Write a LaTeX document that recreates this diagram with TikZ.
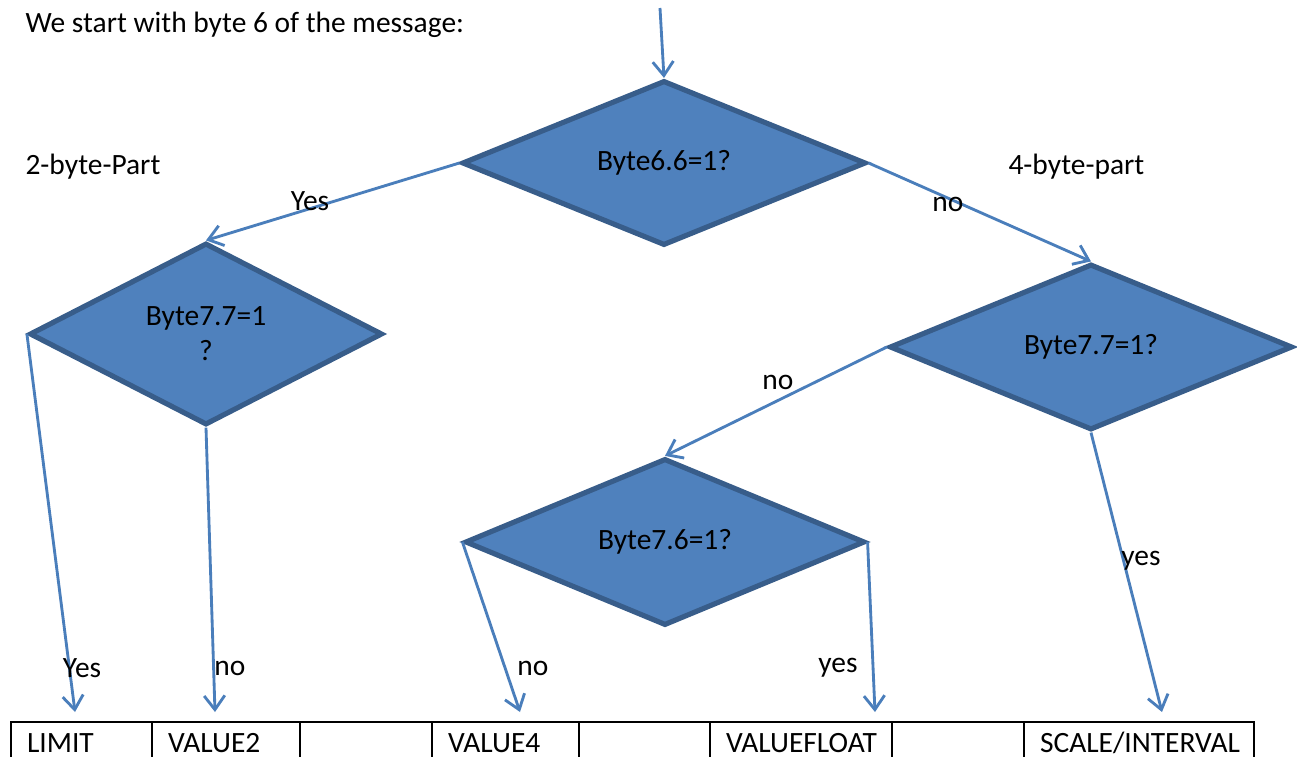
\documentclass[tikz,border=0pt]{standalone}
\usepackage{fontspec}
\setmainfont{Carlito}
\usepackage{tikz}
\usetikzlibrary{shapes.geometric,arrows.meta}
\newcommand{\px}{0.387pt}
\definecolor{dfill}{HTML}{4F81BD}
\definecolor{dline}{HTML}{385D8A}
\definecolor{aline}{HTML}{4A7EBB}
\tikzset{%
  flow/.style = {-{Straight Barb[length=5.4pt,width=8pt]},draw=aline,line width=1.1pt},
  d/.style = {diamond,draw=dline,fill=dfill,line width=2pt,inner sep=0pt,
        align=center,font=\fontsize{11.4}{13.5}\selectfont},
  r/.style = {rectangle,draw,line width=0.8pt,anchor=north west,
        minimum height=42*\px,inner xsep=16*\px,align=left,
        font=\fontsize{11.4}{13.5}\selectfont},
  lab/.style = {inner sep=0pt,font=\fontsize{11.4}{13.5}\selectfont}
}
\begin{document}
\begin{tikzpicture}[x=0.387pt,y=-0.387pt]
\useasboundingbox (0,0) rectangle (1297,757);
% decisions
\node[d,minimum width=404*\px,minimum height=165*\px] (b66) at (664,163) {Byte6.6=1?};
\node[d,minimum width=353*\px,minimum height=182*\px] (b77l) at (206,334) {Byte7.7=1\\?};
\node[d,minimum width=403*\px,minimum height=166*\px] (b77r) at (1091,347) {Byte7.7=1?};
\node[d,minimum width=400*\px,minimum height=167*\px] (b76) at (665,542) {Byte7.6=1?};
% table
\node[r,text width=109*\px] (limit) at (10,721) {LIMIT};
\node[r,text width=116*\px] (value2) at (151,721) {VALUE2};
\node[r,text width=100*\px] (gap1) at (299,721) {};
\node[r,text width=115*\px] (value4) at (431,721) {VALUE4};
\node[r,text width=99*\px] (gap2) at (578,721) {};
\node[r,text width=150*\px] (valuefloat) at (709,721) {VALUEFLOAT};
\node[r,text width=100*\px] (gap3) at (891,721) {};
\node[r,text width=198*\px] (scale) at (1023,721) {SCALE/INTERVAL};
% texts
\node[lab,anchor=west] (intro) at (25,25) {We start with byte 6 of the message:};
\node[lab,anchor=west] (two) at (25,167) {2-byte-Part};
\node[lab,anchor=west] (four) at (1008,167) {4-byte-part};
% arrow ends
\coordinate (start) at (660,8);
\coordinate (eLimit) at (75,712);
\coordinate (eValue2) at (215,712);
\coordinate (eValue4) at (520,712);
\coordinate (eFloat) at (875,712);
\coordinate (eScale) at (1162,712);
\draw[flow] (start) -- (b66.north);
\draw[flow] (b66.west) -- (b77l.north);
\draw[flow] (b66.east) -- (b77r.north);
\draw[flow] (b77r.west) -- (b76.north);
\draw[flow] (b77l.west) -- (eLimit);
\draw[flow] (b77l.south) -- (eValue2);
\draw[flow] (b76.west) -- (eValue4);
\draw[flow] (b76.east) -- (eFloat);
\draw[flow] (b77r.south) -- (eScale);
\node[lab] (yesLeft) at (310,201) {Yes};
\node[lab] (noRight) at (948,204) {no};
\node[lab] (noMid) at (778,382) {no};
\node[lab] (yesLimit) at (82,668) {Yes};
\node[lab] (noValue2) at (230,668) {no};
\node[lab] (noValue4) at (533,668) {no};
\node[lab] (yesFloat) at (838,668) {yes};
\node[lab] (yesScale) at (1141,561) {yes};
\end{tikzpicture}
\end{document}
